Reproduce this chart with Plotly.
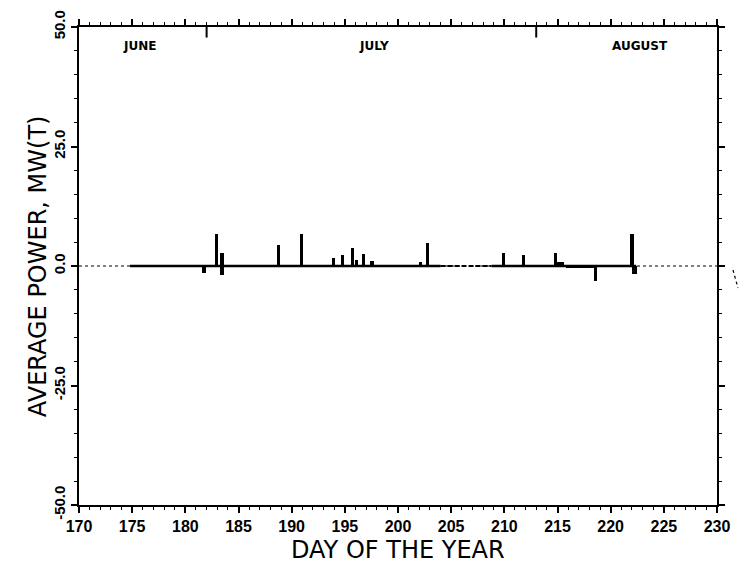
import plotly.graph_objects as go

# ---- data ----
spike_day = [181.75, 182.95, 183.45, 183.45, 188.75, 190.95, 193.90, 194.75,
             195.70, 196.10, 196.75, 197.55, 202.10, 202.75, 209.90, 211.80,
             214.80, 215.25, 217.20, 218.60, 222.00, 222.25]
spike_val = [-1.4, 6.7, -1.8, 2.7, 4.4, 6.8, 1.6, 2.3,
             3.8, 1.2, 2.5, 1.1, 0.9, 4.8, 2.7, 2.3,
             2.7, 0.9, -0.3, -3.2, 6.7, -1.6]
spike_w = [0.3, 0.3, 0.35, 0.35, 0.3, 0.3, 0.3, 0.3,
           0.3, 0.3, 0.3, 0.3, 0.3, 0.3, 0.28, 0.28,
           0.28, 0.8, 2.8, 0.28, 0.3, 0.4]

# operating (solid baseline) periods and a faint, broken stretch
run_start = [174.8, 208.8]
run_end = [204.0, 222.4]
faint_start = [204.0]
faint_end = [208.8]

month_names = ["JUNE", "JULY", "AUGUST"]
month_label_day = [175.7, 197.7, 222.8]
month_start_day = [182, 213]

x_ticks = list(range(170, 231, 5))
y_ticks = [-50, -25, 0, 25, 50]
y_tick_text = ["-50.0", "-25.0", "0.0", "25.0", "50.0"]

x_title = "DAY OF THE YEAR"
y_title = "AVERAGE POWER, MW(T)"

fig = go.Figure()

# dotted zero reference line across full axis
fig.add_trace(go.Scatter(x=[170, 230], y=[0, 0], mode="lines",
                         line=dict(color="black", width=1.2, dash="dot"),
                         hoverinfo="skip", showlegend=False))

# faint broken baseline
fx, fy = [], []
for s, e in zip(faint_start, faint_end):
    fx += [s, e, None]
    fy += [0, 0, None]
fig.add_trace(go.Scatter(x=fx, y=fy, mode="lines",
                         line=dict(color="black", width=2.2, dash="5px,2px"),
                         hoverinfo="skip", showlegend=False))

# solid baseline during operation
bx, by = [], []
for s, e in zip(run_start, run_end):
    bx += [s, e, None]
    by += [0, 0, None]
fig.add_trace(go.Scatter(x=bx, y=by, mode="lines",
                         line=dict(color="black", width=2.6),
                         hoverinfo="skip", showlegend=False))

# power spikes
fig.add_trace(go.Bar(x=spike_day, y=spike_val, width=spike_w, base=0,
                     marker=dict(color="black", line=dict(width=0)),
                     showlegend=False))

shapes = []
for d in month_start_day:
    shapes.append(dict(type="line", xref="x", yref="y", x0=d, x1=d,
                       y0=50, y1=47.8, line=dict(color="black", width=2)))
# scan artifact on right margin
shapes.append(dict(type="line", xref="paper", yref="paper",
                   x0=1.0 + 16/638, x1=1.0 + 21/638,
                   y0=1 - (270-27)/478, y1=1 - (288-27)/478,
                   line=dict(color="black", width=1.2, dash="dot")))

annotations = []
for name, d in zip(month_names, month_label_day):
    annotations.append(dict(x=d, y=46.0, xref="x", yref="y", text=name,
                            showarrow=False,
                            font=dict(family="DejaVu Sans", size=12,
                                      color="black", weight="bold")))
annotations.append(dict(x=0.5, y=-0.094, xref="paper", yref="paper",
                        text=x_title, showarrow=False, yanchor="middle",
                        font=dict(family="DejaVu Sans", size=24, color="black")))
annotations.append(dict(x=-0.064, y=0.5, xref="paper", yref="paper",
                        text=y_title, showarrow=False, textangle=-90,
                        xanchor="center", yanchor="middle",
                        font=dict(family="DejaVu Sans", size=24, color="black")))

fig.update_layout(
    width=744, height=563,
    margin=dict(l=79, r=27, t=27, b=58),
    paper_bgcolor="white", plot_bgcolor="white",
    barmode="overlay", bargap=0,
    shapes=shapes, annotations=annotations,
    font=dict(family="Liberation Sans", color="black"),
)

fig.update_xaxes(
    range=[170, 230], tickvals=x_ticks, ticktext=[str(v) for v in x_ticks],
    ticks="outside", ticklen=6, tickwidth=1.5, tickcolor="black",
    minor=dict(dtick=1, ticks="outside", ticklen=3, tickwidth=1, tickcolor="black"),
    showline=True, linecolor="black", linewidth=2, mirror="ticks",
    showgrid=False, zeroline=False, automargin=False,
    tickfont=dict(family="Liberation Sans", size=16, color="black", weight="bold"),
)
fig.update_yaxes(
    range=[-50, 50], tickvals=y_ticks, ticktext=y_tick_text, tickangle=-90,
    ticks="outside", ticklen=6, tickwidth=1.5, tickcolor="black",
    minor=dict(dtick=5, ticks="outside", ticklen=3, tickwidth=1, tickcolor="black"),
    showline=True, linecolor="black", linewidth=2, mirror="ticks",
    showgrid=False, zeroline=False, automargin=False,
    tickfont=dict(family="Liberation Sans", size=15, color="black", weight="bold"),
)

fig.write_html("out.html")
